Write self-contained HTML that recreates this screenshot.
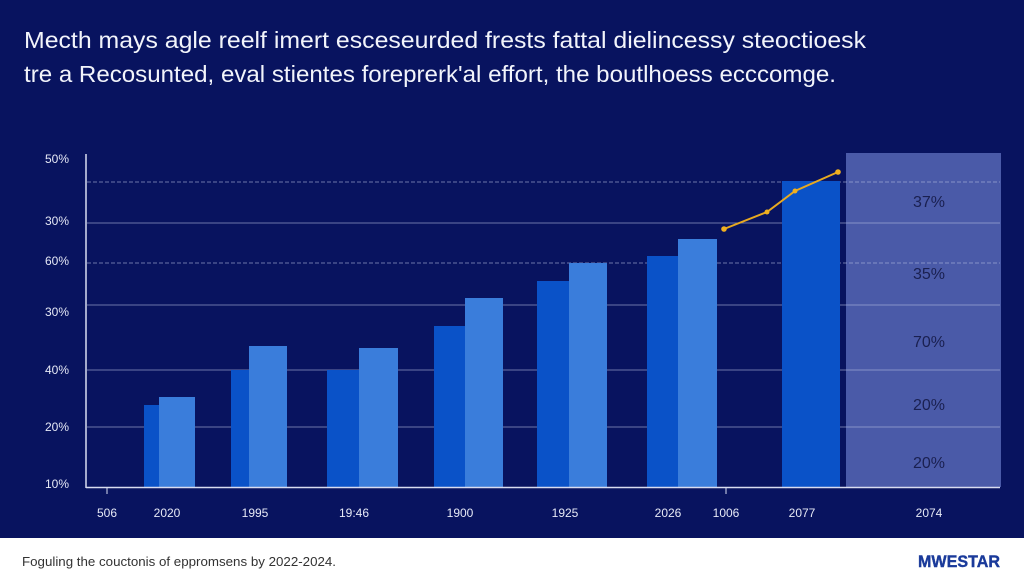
<!DOCTYPE html>
<html><head><meta charset="utf-8"><style>
html,body{margin:0;padding:0;width:1024px;height:585px;overflow:hidden;background:#08135f;}
svg{display:block;font-family:"Liberation Sans",sans-serif;}
</style></head><body>
<svg width="1024" height="585" viewBox="0 0 1024 585">
<rect width="1024" height="538" fill="#08135f"/>
<rect y="538" width="1024" height="47" fill="#ffffff"/>
<text x="24" y="48" fill="#f2f4fb" font-size="23" textLength="842" lengthAdjust="spacingAndGlyphs">Mecth mays agle reelf imert esceseurded frests fattal dielincessy steoctioesk</text>
<text x="24" y="82" fill="#f2f4fb" font-size="23" textLength="812" lengthAdjust="spacingAndGlyphs">tre a Recosunted, eval stientes foreprerk'al effort, the boutlhoess ecccomge.</text>
<rect x="846" y="153" width="155" height="334" fill="#4a5aa8"/>
<g stroke="#aeb6dc" stroke-width="1" opacity="0.6">
<line x1="87" y1="182" x2="1000" y2="182" stroke-dasharray="4 2"/>
<line x1="87" y1="223" x2="1000" y2="223"/>
<line x1="87" y1="263" x2="1000" y2="263" stroke-dasharray="4 2"/>
<line x1="87" y1="305" x2="1000" y2="305"/>
<line x1="87" y1="370" x2="1000" y2="370"/>
<line x1="87" y1="427" x2="1000" y2="427"/>
</g>
<g fill="#0a52c8">
<rect x="144" y="405" width="16" height="82"/>
<rect x="231" y="370" width="19" height="117"/>
<rect x="327" y="370" width="33" height="117"/>
<rect x="434" y="326" width="32" height="161"/>
<rect x="537" y="281" width="33" height="206"/>
<rect x="647" y="256" width="32" height="231"/>
<rect x="782" y="181" width="58" height="306"/>
</g>
<g fill="#3a7ddb">
<rect x="159" y="397" width="36" height="90"/>
<rect x="249" y="346" width="38" height="141"/>
<rect x="359" y="348" width="39" height="139"/>
<rect x="465" y="298" width="38" height="189"/>
<rect x="569" y="263" width="38" height="224"/>
<rect x="678" y="239" width="39" height="248"/>
</g>
<line x1="86" y1="154" x2="86" y2="488" stroke="#d8dcf0" stroke-width="1.5"/>
<line x1="86" y1="487.5" x2="1000" y2="487.5" stroke="#d8dcf0" stroke-width="1.5"/>
<line x1="107" y1="488" x2="107" y2="494" stroke="#d8dcf0"/>
<line x1="726" y1="488" x2="726" y2="494" stroke="#d8dcf0"/>
<polyline points="724,229 767,212 795,191 838,172" fill="none" stroke="#e8a920" stroke-width="2"/>
<g fill="#f0b020"><circle cx="724" cy="229" r="2.8"/><circle cx="767" cy="212" r="2.5"/><circle cx="795" cy="191" r="2.5"/><circle cx="838" cy="172" r="2.8"/></g>
<g fill="#e6e9f6" font-size="12" text-anchor="end">
<text x="69" y="163">50%</text>
<text x="69" y="225">30%</text>
<text x="69" y="265">60%</text>
<text x="69" y="316">30%</text>
<text x="69" y="374">40%</text>
<text x="69" y="431">20%</text>
<text x="69" y="488">10%</text>
</g>
<g fill="#e6e9f6" font-size="12" text-anchor="middle">
<text x="107" y="517">506</text>
<text x="167" y="517">2020</text>
<text x="255" y="517">1995</text>
<text x="354" y="517">19:46</text>
<text x="460" y="517">1900</text>
<text x="565" y="517">1925</text>
<text x="668" y="517">2026</text>
<text x="726" y="517">1006</text>
<text x="802" y="517">2077</text>
<text x="929" y="517">2074</text>
</g>
<g fill="#1a2050" font-size="16" text-anchor="middle">
<text x="929" y="207">37%</text>
<text x="929" y="279">35%</text>
<text x="929" y="347">70%</text>
<text x="929" y="410">20%</text>
<text x="929" y="468">20%</text>
</g>
<text x="22" y="566" fill="#333" font-size="13" textLength="314" lengthAdjust="spacingAndGlyphs">Foguling the couctonis of eppromsens by 2022-2024.</text>
<text x="1000" y="567" fill="#1a3a9a" font-size="17" font-weight="bold" text-anchor="end" textLength="82" lengthAdjust="spacingAndGlyphs" stroke="#1a3a9a" stroke-width="0.4">MWESTAR</text>
</svg>
</body></html>
